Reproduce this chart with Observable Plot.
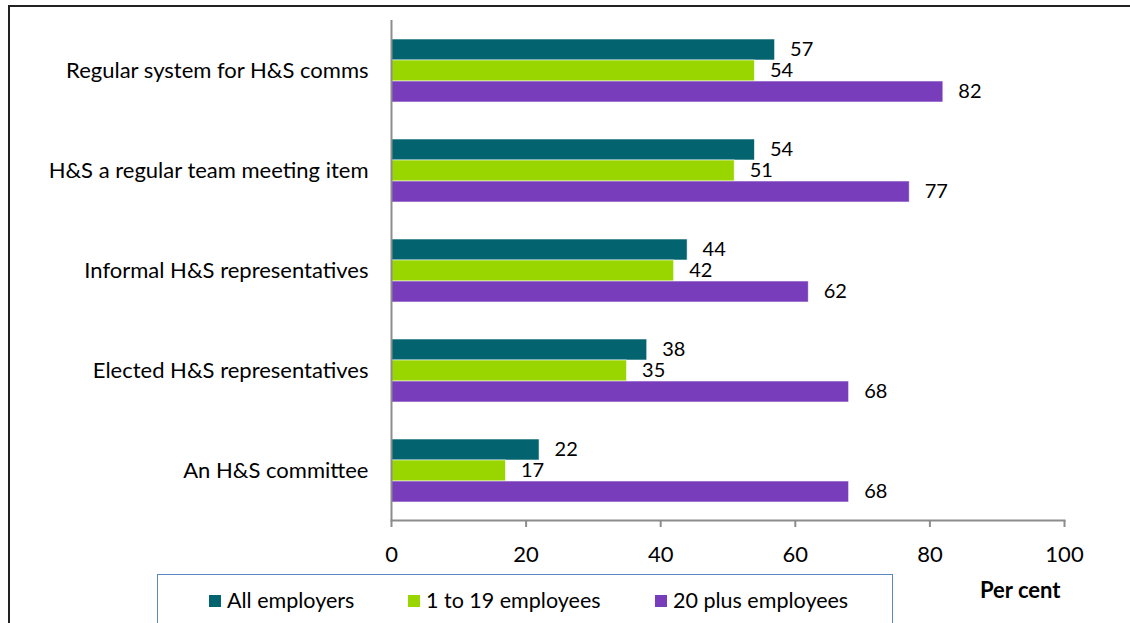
<!DOCTYPE html>
<html>
<head>
<meta charset="utf-8">
<script src="https://cdn.jsdelivr.net/npm/d3@7"></script>
<script src="https://cdn.jsdelivr.net/npm/@observablehq/plot@0.6"></script>
<style>
  html, body { margin: 0; padding: 0; background: #fff; }
  #wrap { position: relative; width: 1130px; height: 623px; overflow: hidden; font-family: Lato, "Noto Sans", sans-serif; }
  #border { position: absolute; left: 8px; top: 5px; width: 1200px; height: 700px; border-top: 2px solid #222; border-left: 2px solid #222; }
  #chart { position: absolute; left: 0; top: 0; }
  #legend { position: absolute; left: 157px; top: 574px; width: 734px; height: 70px; border: 1.5px solid #5b87c5; background: #fff; }
  .item { position: absolute; top: 13px; font-size: 21.5px; color: #000; line-height: 24px; white-space: nowrap; }
  .sw { display: inline-block; width: 12px; height: 12px; margin-right: 6px; vertical-align: 1px; }
</style>
</head>
<body>
<div id="wrap">
  <div id="border"></div>
  <div id="chart"></div>
  <div id="legend"></div>
</div>
<script>
const categories = [
  "Regular system for H&S comms",
  "H&S a regular team meeting item",
  "Informal H&S representatives",
  "Elected H&S representatives",
  "An H&S committee"
];
const seriesNames = ["All employers", "1 to 19 employees", "20 plus employees"];
const allEmployers = [57, 54, 44, 38, 22];
const small1to19 = [54, 51, 42, 35, 17];
const plus20 = [82, 77, 62, 68, 68];
const colors = ["#03646f", "#99d600", "#773dbb"];
const xTicks = [0, 20, 40, 60, 80, 100];

const seriesValues = [allEmployers, small1to19, plus20];
const data = [];
categories.forEach((c, i) => {
  seriesNames.forEach((s, j) => data.push({category: c, series: s, value: seriesValues[j][i]}));
});

const FS = 22;
const chart = Plot.plot({
  width: 1130,
  height: 623,
  marginLeft: 391,
  marginRight: 66,
  marginTop: 19,
  marginBottom: 102,
  style: {fontFamily: "Lato, 'Noto Sans', sans-serif", fontSize: FS + "px", color: "#000", background: "transparent"},
  x: {domain: [0, 100], ticks: xTicks},
  fy: {domain: categories, padding: 0, label: null},
  y: {domain: seriesNames, paddingInner: 0, paddingOuter: 0.8, axis: null},
  color: {domain: seriesNames, range: colors},
  marks: [
    Plot.barX(data, {x: "value", y: "series", fy: "category", fill: "series", stroke: "#ffffff", strokeWidth: 0.8, strokeOpacity: 0.7}),
    Plot.text(data, {x: "value", y: "series", fy: "category", text: d => String(d.value), textAnchor: "start", dx: 15, fontSize: 20, fill: "#000"}),
    Plot.ruleX([0], {stroke: "#8c8c8c", strokeWidth: 2}),
    Plot.frame({anchor: "bottom", stroke: "#8c8c8c", strokeWidth: 2, facet: "super"}),
    Plot.axisFy({anchor: "left", tickSize: 0, tickPadding: 23, fontSize: FS, label: null}),
    Plot.axisX({anchor: "bottom", ticks: xTicks, tickSize: 7, tickPadding: 19, stroke: "#8c8c8c", strokeWidth: 2, fontSize: FS, label: null}),
    Plot.text(["Per cent"], {frameAnchor: "bottom-right", facet: "super", dx: -4, dy: 77, fontWeight: "bold", fontSize: FS, textAnchor: "end", fill: "#000"})
  ]
});
document.getElementById("chart").appendChild(chart);

const legend = document.getElementById("legend");
const itemLeft = [51, 250, 497];
seriesNames.forEach((s, j) => {
  const it = document.createElement("div");
  it.className = "item";
  it.style.left = itemLeft[j] + "px";
  it.innerHTML = `<span class="sw" style="background:${colors[j]}"></span>${s}`;
  legend.appendChild(it);
});
</script>
</body>
</html>
